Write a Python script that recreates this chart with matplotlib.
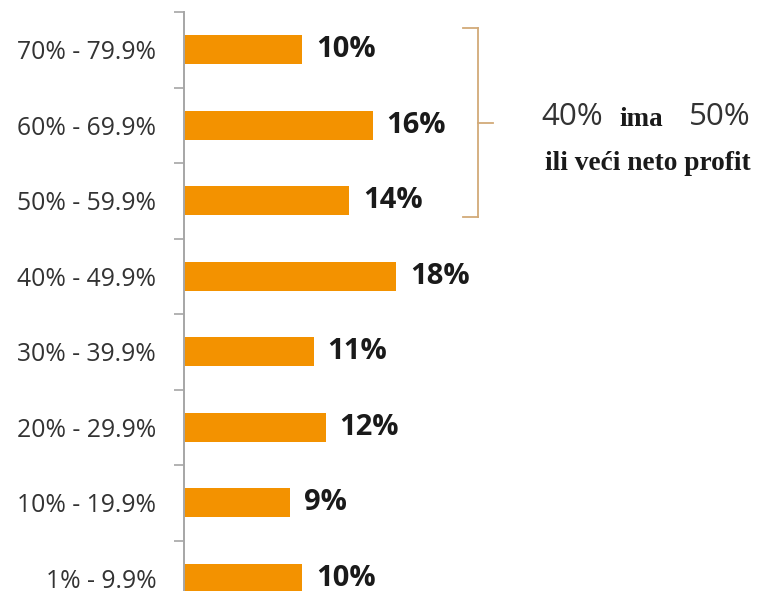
import matplotlib
matplotlib.use("Agg")
import matplotlib.pyplot as plt
from matplotlib.lines import Line2D

# Net profit margin ranges (bottom to top) and share of respondents (%)
categories = ["1% - 9.9%", "10% - 19.9%", "20% - 29.9%", "30% - 39.9%",
              "40% - 49.9%", "50% - 59.9%", "60% - 69.9%", "70% - 79.9%"]
shares = [10, 9, 12, 11, 18, 14, 16, 10]
value_labels = [f"{v}%" for v in shares]

BAR_COLOR = "#F39200"
AXIS_COLOR = "#A6A6A6"
BRACE_COLOR = "#D2AA78"

W, H = 757, 591
fig = plt.figure(figsize=(W / 100, H / 100), dpi=100)
fig.patch.set_facecolor("white")

# Axes reaching a little past the bottom edge of the figure
top_px, step_px, left_px = 12, 75.5, 184
n = len(categories)
ax = fig.add_axes([left_px / W, (H - top_px - n * step_px) / H,
                   (W - left_px) / W, n * step_px / H])

y = list(range(n))
ax.barh(y, shares, height=0.385, color=BAR_COLOR, zorder=2)
ax.set_ylim(-0.5, n - 0.5)
ax.set_xlim(0, (W - left_px) / 11.8)

for yi, v, lab in zip(y, shares, value_labels):
    ax.annotate(lab, (v, yi), xytext=(10, 0), textcoords="offset points",
                va="center", ha="left", fontsize=21, fontweight="bold",
                family="Open Sans", color="#1A1A1A", annotation_clip=False)

for side in ("top", "right", "bottom"):
    ax.spines[side].set_visible(False)
ax.spines["left"].set_color(AXIS_COLOR)
ax.spines["left"].set_linewidth(1.4)
ax.set_xticks([])
ax.set_yticks(y)
ax.set_yticklabels(categories, family="Open Sans", fontsize=17.8, color="#333333")
ax.tick_params(axis="y", which="major", length=0, pad=20)
ax.set_yticks([i - 0.5 for i in range(n + 1)], minor=True)
ax.tick_params(axis="y", which="minor", length=7, width=1.2, color=AXIS_COLOR)

# Curly-bracket grouping the three top ranges
bx = (478 - left_px) / 11.8
arm = 15 / 11.8
tip = 15 / 11.8
y_top, y_bot = 7.29, 4.78
y_mid = (y_top + y_bot) / 2
brace = [
    ([bx - arm, bx], [y_top, y_top]),
    ([bx, bx], [y_top, y_bot]),
    ([bx - arm, bx], [y_bot, y_bot]),
    ([bx, bx + tip], [y_mid, y_mid]),
]
for xs, ys in brace:
    ax.add_line(Line2D(xs, ys, color=BRACE_COLOR, lw=1.3, clip_on=False))

# Side note
fig.text(541 / W, 1 - 117 / H, "40%", family="Open Sans", fontsize=22.5,
         color="#333333", ha="left", va="center")
fig.text(641 / W, 1 - 119 / H, "ima", family="Liberation Serif", fontsize=19.5,
         fontweight="bold", color="#1A1A1A", ha="center", va="center")
fig.text(751 / W, 1 - 117 / H, "50%", family="Open Sans", fontsize=22.5,
         color="#333333", ha="right", va="center")
fig.text(648 / W, 1 - 163 / H, "ili veći neto profit", family="Liberation Serif",
         fontsize=19.7, fontweight="bold", color="#1A1A1A", ha="center", va="center")

fig.savefig("out.png", dpi=100, facecolor="white")
